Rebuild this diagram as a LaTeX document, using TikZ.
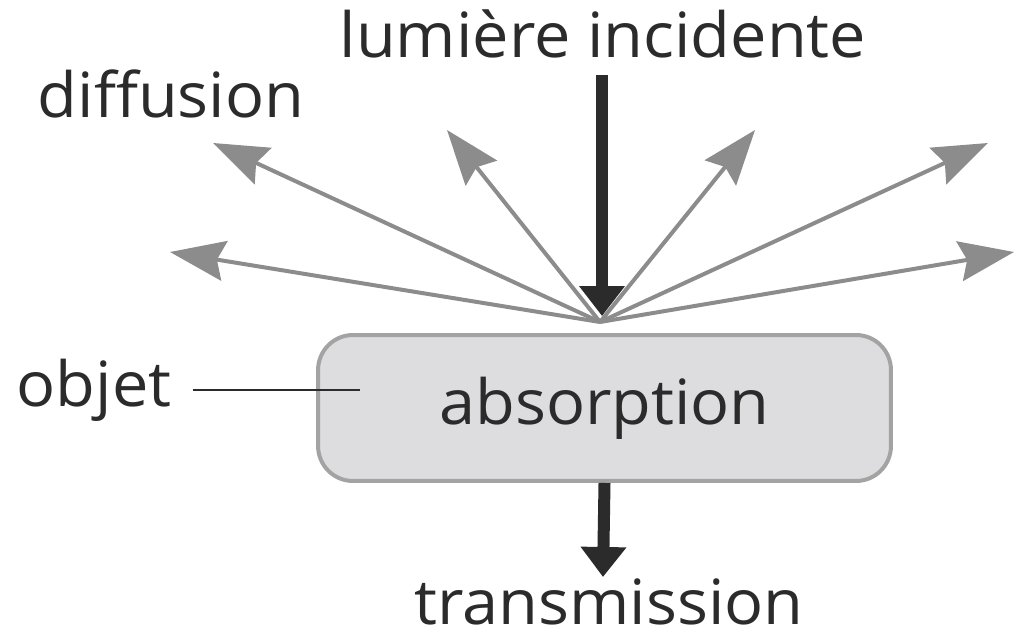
\documentclass[tikz,border=0pt]{standalone}
\usepackage{fontspec}
\setmainfont[FakeStretch=1.04]{Open Sans}
\usetikzlibrary{arrows.meta}
\definecolor{raygray}{HTML}{8C8C8C}
\definecolor{inkdark}{HTML}{2B2B2B}
\definecolor{boxfill}{HTML}{DDDDDF}
\definecolor{boxline}{HTML}{A3A3A3}
\begin{document}
\begin{tikzpicture}[x=0.02cm, y=-0.02cm,
    lbl/.style={anchor=base, inner sep=0pt, text=inkdark, font=\fontsize{35.5}{40}\selectfont},
    objbox/.style={draw=boxline, fill=boxfill, line width=0.08cm, rounded corners=0.7cm,
        minimum width=11.46cm, minimum height=2.92cm, inner sep=0pt, text=inkdark,
        font=\fontsize{35.5}{40}\selectfont},
    ray/.style={draw=raygray, line width=0.08cm, -{Stealth[length=1.1cm, width=0.8cm, inset=0.15cm]}},
    beam/.style={draw=inkdark, line width=0.24cm, -{Triangle[length=0.6cm, width=0.88cm]}}]
            \useasboundingbox (0,0) rectangle (1016,641);

            \node[objbox] (obj) at (604.5, 408) {\raisebox{0.05em}{absorption}};

            \node[lbl] (incident) at (603, 58) {lumière incidente};
            \node[lbl] (diffusion) at (171, 118) {diffusion};
            \node[lbl] (objet) at (94, 406) {objet};
            \node[lbl] (transmission) at (609, 624) {transmission};

            \coordinate (src) at (600, 322);
            \coordinate (beamtop) at (602, 75);
            \coordinate (hit) at (602, 316);
            \coordinate (transtip) at (603, 577);
            \coordinate (objtip) at (360, 390);

            \coordinate (r1) at (213, 143);
            \coordinate (r2) at (170, 252);
            \coordinate (r3) at (447, 130);
            \coordinate (r4) at (755, 130);
            \coordinate (r5) at (988, 143);
            \coordinate (r6) at (1014, 252);

            % rayons diffuses
            \draw[ray] (src) -- (r1);
            \draw[ray] (src) -- (r2);
            \draw[ray] (src) -- (r3);
            \draw[ray] (src) -- (r4);
            \draw[ray] (src) -- (r5);
            \draw[ray] (src) -- (r6);

            \draw[beam] (beamtop) -- (hit);
            \draw[beam] (obj.south) -- (transtip);

            \draw[line width=0.026cm, inkdark] (objet.east |- objtip) ++(21,0) -- (objtip);

        \end{tikzpicture}
\end{document}
